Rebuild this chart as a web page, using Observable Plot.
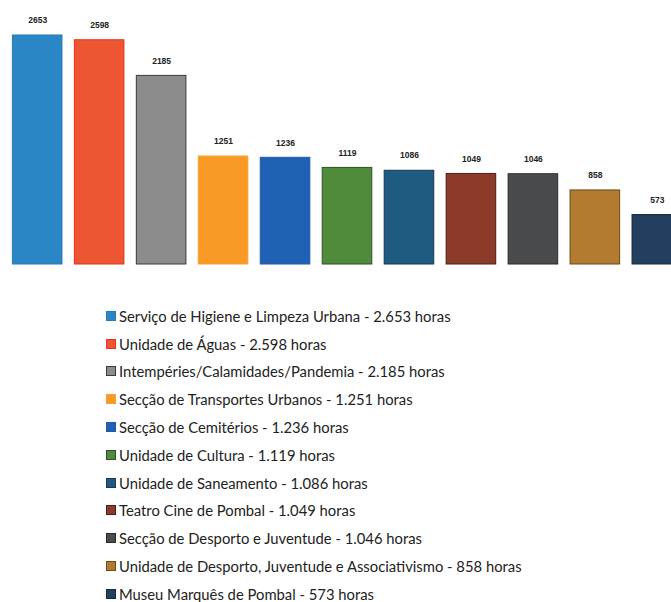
<!DOCTYPE html>
<html>
<head>
<meta charset="utf-8">
<script src="https://cdn.jsdelivr.net/npm/d3@7"></script>
<script src="https://cdn.jsdelivr.net/npm/@observablehq/plot@0.6"></script>
<style>
  html, body { margin: 0; padding: 0; background: #fff; overflow: hidden; }
  #chart svg { display: block; overflow: visible; }
  #legend { margin-top: 22px; font-family: Lato, "Open Sans", sans-serif; font-size: 14.8px; color: #222; }
  .row { height: 27.8px; display: flex; align-items: center; }
  .sw { width: 8px; height: 8px; margin-left: 106px; margin-right: 3px; flex: none; }
</style>
</head>
<body>
<div id="chart"></div>
<div id="legend"></div>
<script>
const categories = [
  "Serviço de Higiene e Limpeza Urbana",
  "Unidade de Águas",
  "Intempéries/Calamidades/Pandemia",
  "Secção de Transportes Urbanos",
  "Secção de Cemitérios",
  "Unidade de Cultura",
  "Unidade de Saneamento",
  "Teatro Cine de Pombal",
  "Secção de Desporto e Juventude",
  "Unidade de Desporto, Juventude e Associativismo",
  "Museu Marquês de Pombal"
];
const hours = [2653, 2598, 2185, 1251, 1236, 1119, 1086, 1049, 1046, 858, 573];
const colors = ["#2b86c6", "#ee5633", "#8c8c8c", "#f99a26", "#1f62b4", "#4f8b3b", "#1f5a80", "#8c3a2a", "#4a4b4d", "#b27b30", "#233f60"];
const strokes = ["#2a7ab5", "#e8301c", "#3a3a3a", "#f7a030", "#2258a8", "#2f4f2a", "#173a55", "#4a2018", "#2a2a2a", "#6a4a1a", "#172a40"];

const data = categories.map((c, i) => ({cat: c, v: hours[i], fill: colors[i], stroke: strokes[i]}));

const plot = Plot.plot({
  width: 671,
  height: 280,
  style: {background: "transparent", overflow: "visible"},
  x: {domain: categories, range: [0, 694], padding: 0.2, round: false, axis: null},
  y: {domain: [0, 2653], range: [264, 35], axis: null},
  marks: [
    Plot.barY(data, {x: "cat", y: "v", fill: "fill", stroke: "stroke", strokeWidth: 1}),
    Plot.text(data, {x: "cat", y: "v", text: d => String(d.v), dy: -15, fontSize: 8.5, fontWeight: "bold", fill: "#222", fontFamily: "Liberation Sans, sans-serif"})
  ]
});
document.getElementById("chart").appendChild(plot);

const fmt = v => v.toLocaleString("de-DE");
const legend = document.getElementById("legend");
data.forEach(d => {
  const row = document.createElement("div");
  row.className = "row";
  const sw = document.createElement("span");
  sw.className = "sw";
  sw.style.background = d.fill;
  sw.style.border = "0.5px solid " + d.stroke;
  const t = document.createElement("span");
  t.textContent = `${d.cat} - ${fmt(d.v)} horas`;
  row.appendChild(sw);
  row.appendChild(t);
  legend.appendChild(row);
});
</script>
</body>
</html>
